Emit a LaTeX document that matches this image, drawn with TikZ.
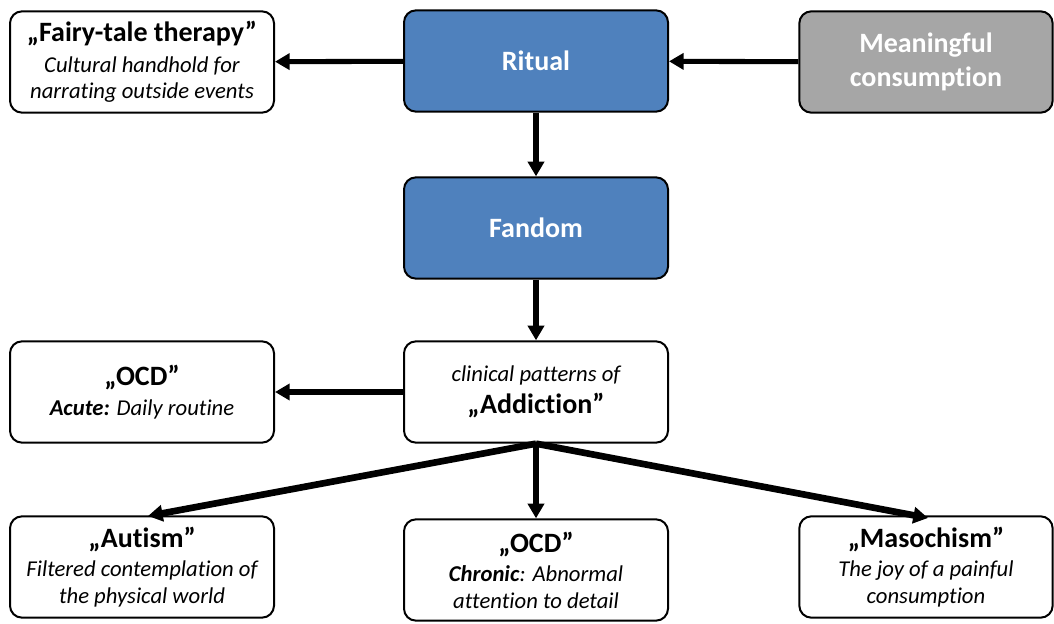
\documentclass[tikz,border=0pt]{standalone}
\usepackage{fontspec}
\setmainfont{Carlito}[RawFeature={-liga;-clig}]
\usetikzlibrary{arrows.meta}
\definecolor{ritualblue}{HTML}{4F81BD}
\definecolor{softgray}{HTML}{A6A6A6}
\tikzset{
  card/.style={draw=black, line width=1.5pt, rounded corners=9pt,
    minimum width=198pt, minimum height=76pt, align=center, inner sep=2pt,
    fill=white, font=\fontsize{17}{20}\selectfont},
  bluecard/.style={card, fill=ritualblue, text=white, font=\fontsize{21}{25}\selectfont\bfseries},
  graycard/.style={card, fill=softgray, text=white, font=\fontsize{21}{25}\selectfont\bfseries},
  link/.style={line width=3.8pt, -{Triangle[length=11pt,width=12pt]}},
}
\newcommand{\ttl}[1]{{\fontsize{21}{25}\selectfont\bfseries #1}}
\newcommand{\sub}[1]{{\itshape #1}}
\begin{document}
\begin{tikzpicture}[x=0.75pt,y=-0.75pt]
\useasboundingbox (0,0) rectangle (1054,624);
\node[card] (fairy) at (142,62) {\ttl{„Fairy-tale therapy”}\\[3pt]\sub{Cultural handhold for}\\\sub{narrating outside events}};
\node[bluecard] (ritual) at (536,61) {Ritual};
\node[graycard, minimum width=190pt] (mean) at (926,62) {Meaningful\\consumption};
\node[bluecard] (fandom) at (536,228) {Fandom};
\node[card] (ocda) at (142,392) {\ttl{„OCD”}\\[3pt]\textbf{\textit{Acute:}} \textit{Daily routine}};
\node[card] (addict) at (536,392) {\sub{clinical patterns of}\\[4pt]\ttl{„Addiction”}};
\node[card] (autism) at (142,567) {\ttl{„Autism”}\\[2pt]\sub{Filtered contemplation of}\\\sub{the physical world}};
\node[card] (ocdc) at (536,570) {\ttl{„OCD”}\\[2pt]\textbf{\textit{Chronic}}\textit{: Abnormal}\\\sub{attention to detail}};
\node[card, minimum width=190pt] (maso) at (926,567) {\ttl{„Masochism”}\\[2pt]\sub{The joy of a painful}\\\sub{consumption}};
\coordinate (autTop) at (148,516);
\coordinate (masTop) at (928,518);
\draw[link] (ritual) -- (fairy);
\draw[link] (mean) -- (ritual);
\draw[link] (ritual) -- (fandom);
\draw[link] (fandom) -- (addict);
\draw[link] (addict) -- (ocda);
\draw[link] (addict.south) -- (ocdc);
\draw[link, line width=5pt] (addict.south) -- (autTop);
\draw[link, line width=5pt] (addict.south) -- (masTop);
\end{tikzpicture}
\end{document}
